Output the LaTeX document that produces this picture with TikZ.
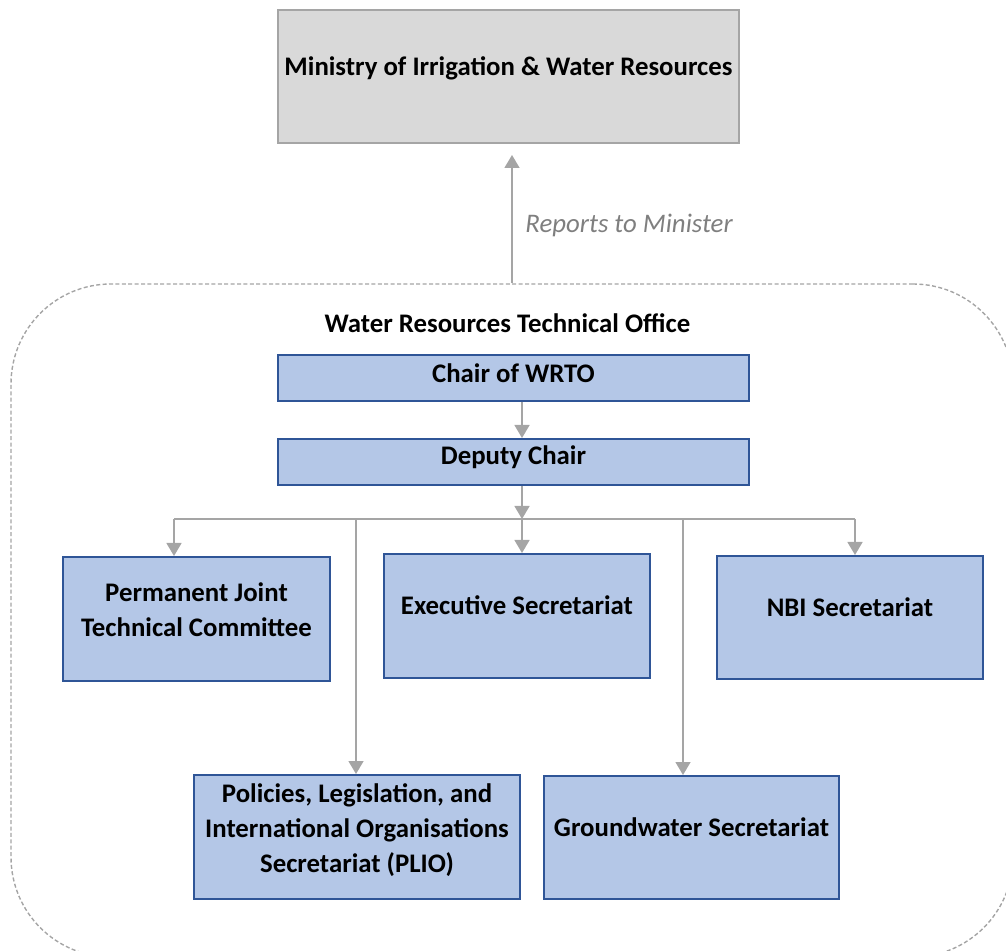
\documentclass[tikz,border=0pt]{standalone}
\usepackage{fontspec}
\setmainfont{Carlito}
\usetikzlibrary{arrows.meta}
\definecolor{unitfill}{HTML}{B4C7E7}
\definecolor{unitline}{HTML}{2F5597}
\definecolor{minfill}{HTML}{D9D9D9}
\definecolor{linkgray}{HTML}{A5A5A5}
\definecolor{notegray}{HTML}{7F7F7F}
\newcommand\orgfont{\fontsize{13.4}{17.5}\selectfont}
\tikzset{
  unit/.style={draw=unitline, line width=1pt, fill=unitfill, inner sep=0pt},
  boxtext/.style={align=center, font=\orgfont\bfseries, yshift=#1},
  link/.style={draw=linkgray, line width=0.75pt, -{Triangle[width=7.5pt,length=6.5pt]}},
  busline/.style={draw=linkgray, line width=0.75pt}
}
\begin{document}
\begin{tikzpicture}[x=0.5pt, y=-0.5pt]
\useasboundingbox (0,0) rectangle (1006,951);
\node[draw=linkgray, line width=0.7pt, dash pattern=on 2pt off 1.2pt, rounded corners=50pt, minimum width=501pt, minimum height=336.5pt] (office) at (512,620.5) {};
\node[draw=linkgray, line width=1pt, fill=minfill, minimum width=230.5pt, minimum height=66.5pt, label={[boxtext=4pt, name=ministry-t]center:Ministry of Irrigation \& Water Resources}] (ministry) at (508.5,76.5) {};
\draw[link, shorten >=5.5pt] (office.north) -- (ministry.south -| office.north) node[midway, right, xshift=3pt, yshift=-6pt, font=\orgfont\itshape, text=notegray] {Reports to Minister};
\node[font=\orgfont\bfseries] (office-t) at (507.5,323) {Water Resources Technical Office};
\node[unit, minimum width=235.5pt, minimum height=23pt, label={[boxtext=2.5pt, name=chair-t]center:Chair of WRTO}] (chair) at (513.5,378) {};
\node[unit, minimum width=235.5pt, minimum height=23pt, label={[boxtext=2.5pt, name=deputy-t]center:Deputy Chair}] (deputy) at (513.5,462) {};
\node[unit, minimum width=133.5pt, minimum height=62pt, label={[boxtext=4.75pt, name=pjtc-t]center:{Permanent Joint\\Technical Committee}}] (pjtc) at (196.5,619) {};
\node[unit, minimum width=133pt, minimum height=62pt, label={[boxtext=5.5pt, name=exec-t]center:Executive Secretariat}] (exec) at (517,616) {};
\node[unit, minimum width=133pt, minimum height=61.5pt, label={[boxtext=5pt, name=nbi-t]center:NBI Secretariat}] (nbi) at (850,617.5) {};
\node[unit, minimum width=163pt, minimum height=62pt, label={[boxtext=3.5pt, name=plio-t]center:{Policies, Legislation, and\\International Organisations\\Secretariat (PLIO)}}] (plio) at (357,837) {};
\node[unit, minimum width=147.5pt, minimum height=61.5pt, label={[boxtext=5pt, name=gw-t]center:Groundwater Secretariat}] (gw) at (691.5,837.5) {};
\coordinate (hub) at (522,519);
\coordinate (busL) at (174,519);
\coordinate (busR) at (855,519);
\coordinate (br1) at (356,519);
\coordinate (br2) at (683,519);
\draw[link] (chair.south -| hub) -- (deputy.north -| hub);
\draw[link] (deputy.south -| hub) -- (hub);
\draw[busline] (busL) -- (busR);
\draw[link] (busL) -- (busL |- pjtc.north);
\draw[link] (br1) -- (br1 |- plio.north);
\draw[link] (hub) -- (hub |- exec.north);
\draw[link] (br2) -- (br2 |- gw.north);
\draw[link] (busR) -- (busR |- nbi.north);
\end{tikzpicture}
\end{document}
